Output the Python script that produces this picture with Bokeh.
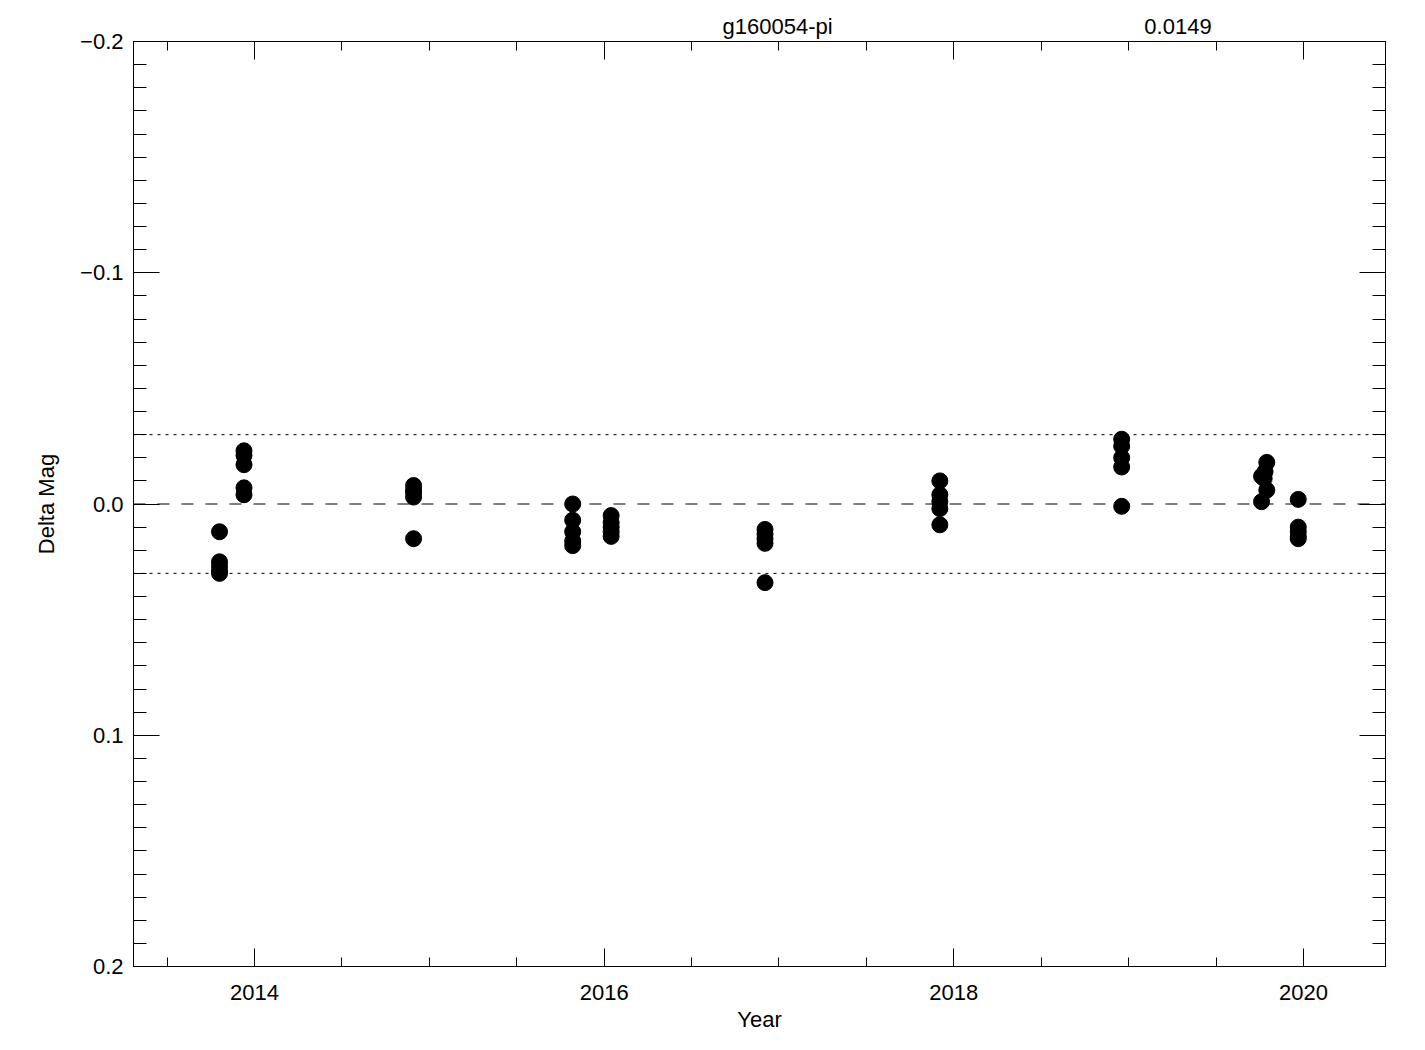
from bokeh.plotting import figure
from bokeh.models import (Range1d, LinearAxis, SingleIntervalTicker, Span, Title,
                          CustomJSTickFormatter)
from bokeh.embed import file_html
from bokeh.resources import INLINE

# ---- data ----
obs_year = [2013.80, 2013.80, 2013.80, 2013.80, 2013.80,
            2013.94, 2013.94, 2013.94, 2013.94, 2013.94,
            2014.91, 2014.91, 2014.91, 2014.91, 2014.91,
            2015.82, 2015.82, 2015.82, 2015.82, 2015.82,
            2016.04, 2016.04, 2016.04, 2016.04, 2016.04,
            2016.92, 2016.92, 2016.92, 2016.92, 2016.92,
            2017.92, 2017.92, 2017.92, 2017.92, 2017.92,
            2018.96, 2018.96, 2018.96, 2018.96, 2018.96,
            2019.76, 2019.76, 2019.775, 2019.79, 2019.79, 2019.78,
            2019.97, 2019.97, 2019.97, 2019.97, 2019.97]
obs_dmag = [0.012, 0.025, 0.027, 0.029, 0.030,
            -0.023, -0.021, -0.017, -0.007, -0.004,
            -0.008, -0.006, -0.005, -0.003, 0.015,
            0.000, 0.007, 0.012, 0.016, 0.018,
            0.005, 0.008, 0.010, 0.012, 0.014,
            0.011, 0.013, 0.015, 0.017, 0.034,
            -0.010, -0.004, -0.001, 0.002, 0.009,
            -0.028, -0.025, -0.020, -0.016, 0.001,
            -0.001, -0.012, -0.011, -0.018, -0.006, -0.014,
            -0.002, 0.010, 0.012, 0.014, 0.015]
ref_levels = [-0.03, 0.03]
zero_level = 0.0
title_name = "g160054-pi"
title_value = "0.0149"
x_limits = (2013.308, 2020.469)
y_limits = (0.2, -0.2)   # inverted: bottom, top

FONT = "Liberation Sans"
FS = "22px"

p = figure(width=1415, height=1040, output_backend="svg", toolbar_location=None,
           x_range=Range1d(*x_limits), y_range=Range1d(*y_limits),
           x_axis_location=None, y_axis_location=None,
           min_border_left=133, min_border_right=30, min_border_top=41,
           min_border_bottom=74)
p.xgrid.visible = False
p.ygrid.visible = False
p.outline_line_color = "black"
p.outline_line_width = 1
p.background_fill_color = "white"
p.border_fill_color = "white"

yfmt = CustomJSTickFormatter(code="""
var s = Math.abs(tick) < 1e-9 ? "0.0" : tick.toFixed(1);
return s.replace("-", "\u2212");
""")
blank = CustomJSTickFormatter(code="return '';")

def style(ax, tin, tmin):
    ax.axis_line_color = "black"
    ax.major_tick_line_color = "black"
    ax.minor_tick_line_color = "black"
    ax.major_tick_in = tin
    ax.major_tick_out = 0
    ax.minor_tick_in = tmin
    ax.minor_tick_out = 0
    ax.major_label_text_font = FONT
    ax.major_label_text_font_size = FS
    ax.major_label_text_color = "black"
    ax.axis_label_text_font = FONT
    ax.axis_label_text_font_size = FS
    ax.axis_label_text_font_style = "normal"
    ax.axis_label_text_color = "black"

xb = LinearAxis(ticker=SingleIntervalTicker(interval=2, num_minor_ticks=4),
                axis_label="Year")
style(xb, 18, 9)
xb.major_label_standoff = 18
xb.axis_label_standoff = 4
p.add_layout(xb, "below")

xt = LinearAxis(ticker=SingleIntervalTicker(interval=2, num_minor_ticks=4),
                formatter=blank)
style(xt, 18, 9)
xt.major_label_text_font_size = "0px"
xt.major_label_standoff = 0
p.add_layout(xt, "above")

yl = LinearAxis(ticker=SingleIntervalTicker(interval=0.1, num_minor_ticks=10),
                formatter=yfmt, axis_label="Delta Mag")
style(yl, 26, 13)
yl.major_label_standoff = 10
yl.axis_label_standoff = 18
p.add_layout(yl, "left")

yr = LinearAxis(ticker=SingleIntervalTicker(interval=0.1, num_minor_ticks=10),
                formatter=blank)
style(yr, 26, 13)
yr.major_label_text_font_size = "0px"
yr.major_label_standoff = 0
p.add_layout(yr, "right")

for lv in ref_levels:
    p.add_layout(Span(location=lv, dimension="width", line_color="black",
                      line_width=1, line_dash="3 5"))
p.add_layout(Span(location=zero_level, dimension="width", line_color="black",
                  line_width=1, line_dash="12 12"))

p.scatter(obs_year, obs_dmag, size=16, marker="circle", fill_color="black",
          line_color="black")

# header line: name and value, separated by non-breaking spaces
header = title_name + "\u00a0" * 51 + title_value
p.add_layout(Title(text=header, align="left", offset=589, standoff=6,
                   text_font=FONT, text_font_size=FS, text_font_style="normal",
                   text_color="black"), "above")

open("out.html", "w").write(file_html(p, INLINE))
